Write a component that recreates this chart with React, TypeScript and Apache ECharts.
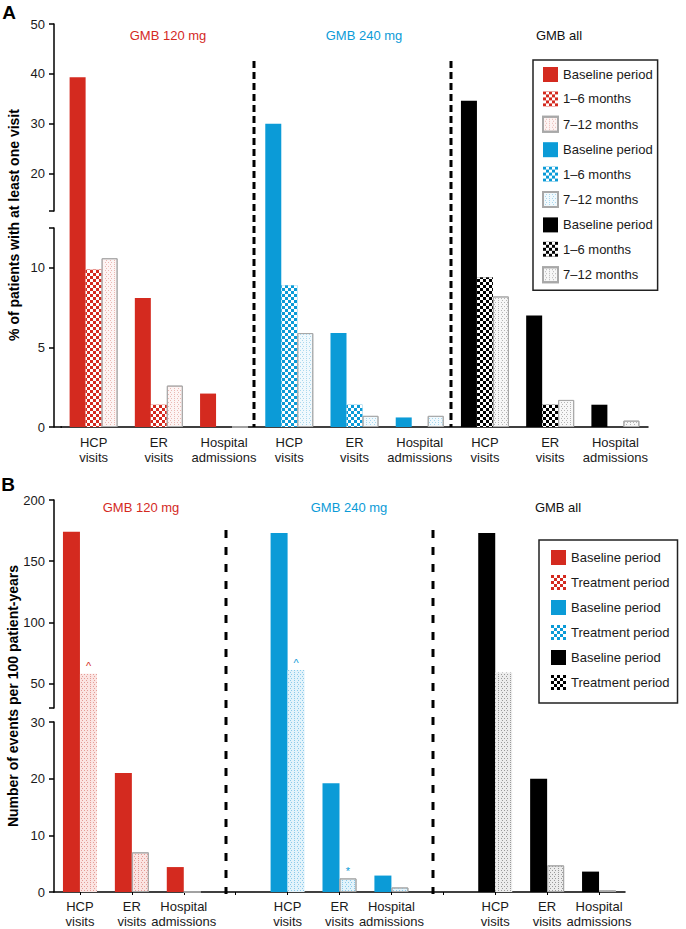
import React, { useEffect, useRef } from 'react';
import * as echarts from 'echarts';

const FONT = '"Liberation Sans", Arial, Helvetica, sans-serif';
const RED = '#d42a1f';
const BLUE = '#0b9bd7';
const BLACK = '#000000';

const groupNames = ['GMB 120 mg', 'GMB 240 mg', 'GMB all'];
const groupColors = [RED, BLUE, BLACK];
const visitTypes = ['HCP\nvisits', 'ER\nvisits', 'Hospital\nadmissions'];

// ---- Panel A: % of patients with at least one visit (HCP, ER, Hospital)
const periodsA = ['Baseline period', '1–6 months', '7–12 months'];
const a120Baseline = [39.3, 8.1, 2.1];
const a120Months1to6 = [9.9, 1.4, 0];
const a120Months7to12 = [10.6, 2.6, 0];
const a240Baseline = [30.0, 5.9, 0.6];
const a240Months1to6 = [8.9, 1.4, 0];
const a240Months7to12 = [5.9, 0.7, 0.7];
const aAllBaseline = [34.6, 7.0, 1.4];
const aAllMonths1to6 = [9.4, 1.4, 0];
const aAllMonths7to12 = [8.2, 1.7, 0.4];
const aLowerTicks = [0, 5, 10, 12.5];
const aLowerLabels = [0, 5, 10];
const aUpperTicks = [12.5, 20, 30, 40, 50];
const aUpperLabels = [20, 30, 40, 50];

// ---- Panel B: number of events per 100 patient-years
const periodsB = ['Baseline period', 'Treatment period'];
const b120Baseline = [174, 21, 4.4];
const b120Treatment = [58, 7.0, 0];
const b240Baseline = [173, 19.2, 2.9];
const b240Treatment = [61, 2.4, 0.8];
const bAllBaseline = [173, 20.0, 3.6];
const bAllTreatment = [59, 4.7, 0.3];
const b120Marks = ['^', '', ''];
const b240Marks = ['^', '*', ''];
const bAllMarks = ['', '', ''];
const bLowerTicks = [0, 10, 20, 30];
const bLowerLabels = [0, 10, 20, 30];
const bUpperTicks = [30, 50, 100, 150, 200];
const bUpperLabels = [50, 100, 150, 200];

const checker = (c: string) => ({
  symbol: 'rect', symbolSize: 1, dashArrayX: [[3, 3], [0, 3, 3, 0]], dashArrayY: [3, 0], color: c,
});
const dots = (c: string) => ({
  symbol: 'rect', symbolSize: 1, dashArrayX: [[1, 2], [0, 1.5, 1, 0.5]], dashArrayY: [1, 0.5], color: c,
});

const lightA = ['#fdf4f3', '#f1f9fd', '#f7f7f7'];
const dotA = ['#eab8b4', '#a9d8ee', '#b5b5b5'];
const lightB = ['#fbe4e2', '#e3f3fb', '#ececec'];
const dotB = ['#e49c96', '#8ccbea', '#9a9a9a'];

function styleA(g: number, p: number) {
  if (p === 0) return { color: groupColors[g], borderWidth: 0 };
  if (p === 1) return { color: groupColors[g], decal: checker('#ffffff'), borderWidth: 0 };
  return { color: lightA[g], decal: dots(dotA[g]), borderColor: '#a8a8a8', borderWidth: 1 };
}
function styleB(g: number, p: number) {
  if (p === 0) return { color: groupColors[g], borderWidth: 0 };
  return { color: lightB[g], decal: dots(dotB[g]), borderColor: '#a8a8a8', borderWidth: 1 };
}

type Panel = {
  key: string;
  values: number[][][];
  periods: string[];
  marks: string[][] | null;
  catLabels: string[];
  catIndex: (g: number, k: number) => number;
  left: number; width: number; offset: number;
  top: number; breakTop: number; breakBottom: number; bottom: number;
  highMin: number; highMax: number; lowMax: number;
  upperTicks: number[]; upperLabels: number[]; lowerTicks: number[]; lowerLabels: number[];
  barWidth: number;
  style: (g: number, p: number) => any;
  xTicks: boolean;
  labelMargin: number;
};

function build(panel: Panel, out: any) {
  const gi = out.grid.length;
  const { left, width, top, breakTop, breakBottom, bottom } = panel;
  out.grid.push({ left, top, width, height: breakTop - top });
  out.grid.push({ left, top, width, height: breakBottom - top });
  out.grid.push({ left, top: breakBottom, width, height: bottom - breakBottom });
  for (let i = 0; i < 3; i++) {
    out.xAxis.push({
      type: 'category', gridIndex: gi + i, data: panel.catLabels, show: i === 2,
      axisLine: { show: true, lineStyle: { color: '#000', width: 1.5 } },
      axisTick: { show: panel.xTicks, alignWithLabel: true, length: 3, lineStyle: { color: '#000', width: 1 } },
      axisLabel: { interval: 0, hideOverlap: false, fontSize: 13, color: '#1a1a1a', lineHeight: 15, margin: panel.labelMargin, fontFamily: FONT },
      splitLine: { show: false },
    });
  }
  const axisCommon = {
    type: 'value', offset: panel.offset,
    axisLine: { show: true, lineStyle: { color: '#000', width: 1.5 } },
    splitLine: { show: false },
  };
  const upperMinBars = panel.highMax - (breakBottom - top) * (panel.highMax - panel.highMin) / (breakTop - top);
  out.yAxis.push({
    ...axisCommon, gridIndex: gi, min: panel.highMin, max: panel.highMax,
    axisTick: { show: true, length: 5, customValues: panel.upperTicks, lineStyle: { color: '#000', width: 1.5 } },
    axisLabel: { customValues: panel.upperLabels, fontSize: 13, color: '#1a1a1a', margin: 9, fontFamily: FONT },
  });
  out.yAxis.push({ type: 'value', gridIndex: gi + 1, min: upperMinBars, max: panel.highMax, show: false, splitLine: { show: false } });
  out.yAxis.push({
    ...axisCommon, gridIndex: gi + 2, min: 0, max: panel.lowMax,
    axisTick: { show: true, length: 5, customValues: panel.lowerTicks, lineStyle: { color: '#000', width: 1.5 } },
    axisLabel: { customValues: panel.lowerLabels, fontSize: 13, color: '#1a1a1a', margin: 9, fontFamily: FONT },
  });
  const nCat = panel.catLabels.length;
  const names: string[] = [];
  panel.values.forEach((groupVals, g) => {
    groupVals.forEach((vals, p) => {
      const name = `${panel.periods[p]}|${panel.key}${g}`;
      names.push(name);
      const upper: any[] = new Array(nCat).fill(null);
      const lower: any[] = new Array(nCat).fill(null);
      vals.forEach((v, k) => {
        const idx = panel.catIndex(g, k);
        const mark = panel.marks && p === panel.periods.length - 1 ? panel.marks[g][k] : '';
        const lbl = mark ? { show: true, formatter: mark, position: 'top', distance: 2, color: groupColors[g], fontSize: 11, fontFamily: FONT } : undefined;
        if (v > panel.highMin) {
          // bar crosses the axis break: drawn in both segments without an outline so it reads as one bar
          const noEdge = { borderWidth: 0 };
          upper[idx] = lbl ? { value: v, label: lbl, itemStyle: noEdge } : { value: v, itemStyle: noEdge };
          lower[idx] = { value: v, itemStyle: noEdge };
        } else {
          lower[idx] = lbl ? { value: v, label: lbl } : v;
        }
      });
      const common = {
        type: 'bar', name, barWidth: panel.barWidth, barGap: '0%', silent: true,
        itemStyle: panel.style(g, p), emphasis: { disabled: true },
      };
      out.series.push({ ...common, xAxisIndex: gi + 1, yAxisIndex: gi + 1, stack: `${panel.key}u${p}`, data: upper });
      out.series.push({ ...common, xAxisIndex: gi + 2, yAxisIndex: gi + 2, stack: `${panel.key}l${p}`, data: lower });
    });
  });
  return names;
}

export default function App() {
  const ref = useRef<HTMLDivElement>(null);
  useEffect(() => {
    if (!ref.current) return;
    const chart = echarts.init(ref.current, undefined, { renderer: 'svg' });
    const out: any = { grid: [], xAxis: [], yAxis: [], series: [] };

    const catsA: string[] = [];
    for (let g = 0; g < 3; g++) visitTypes.forEach((v) => catsA.push(v));
    const catsB: string[] = [];
    for (let g = 0; g < 3; g++) {
      visitTypes.forEach((v) => catsB.push(v));
      if (g < 2) catsB.push('');
    }

    const namesA = build({
      key: 'A',
      values: [
        [a120Baseline, a120Months1to6, a120Months7to12],
        [a240Baseline, a240Months1to6, a240Months7to12],
        [aAllBaseline, aAllMonths1to6, aAllMonths7to12],
      ],
      periods: periodsA, marks: null, catLabels: catsA, catIndex: (g, k) => g * 3 + k,
      left: 61, width: 587, offset: 7,
      top: 24, breakTop: 211, breakBottom: 228, bottom: 427,
      highMin: 12.5, highMax: 50, lowMax: 12.5,
      upperTicks: aUpperTicks, upperLabels: aUpperLabels, lowerTicks: aLowerTicks, lowerLabels: aLowerLabels,
      barWidth: 16, style: styleA, xTicks: false, labelMargin: 8,
    }, out);

    const namesB = build({
      key: 'B',
      values: [
        [b120Baseline, b120Treatment],
        [b240Baseline, b240Treatment],
        [bAllBaseline, bAllTreatment],
      ],
      periods: periodsB, marks: [b120Marks, b240Marks, bAllMarks], catLabels: catsB, catIndex: (g, k) => g * 4 + k,
      left: 54, width: 571, offset: 0,
      top: 500, breakTop: 708, breakBottom: 722, bottom: 894,
      highMin: 30, highMax: 200, lowMax: 30,
      upperTicks: bUpperTicks, upperLabels: bUpperLabels, lowerTicks: bLowerTicks, lowerLabels: bLowerLabels,
      barWidth: 17, style: styleB, xTicks: true, labelMargin: 7,
    }, out);

    const legendCommon = {
      orient: 'vertical', icon: 'rect', itemWidth: 15, itemHeight: 15, selectedMode: false,
      borderColor: '#222', borderWidth: 1.5, borderRadius: 0, backgroundColor: '#fff',
      textStyle: { fontSize: 13, color: '#1a1a1a', fontFamily: FONT },
      formatter: (n: string) => n.split('|')[0],
    };
    const legendBData = namesB.map((n, i) => {
      const g = Math.floor(i / 2);
      const p = i % 2;
      return p === 1 ? { name: n, itemStyle: { color: groupColors[g], decal: checker('#ffffff'), borderWidth: 0 } } : { name: n };
    });

    const dashed = (x: number, y1: number, y2: number, dash: number[]) => ({
      type: 'line', silent: true,
      shape: { x1: x, y1, x2: x, y2 },
      style: { stroke: '#000', lineWidth: 3, lineDash: dash },
    });
    const txt = (text: string, x: number, y: number, color: string, font: string, rotation = 0) => ({
      type: 'text', x, y, rotation, silent: true,
      style: { text, fill: color, font, align: 'center', verticalAlign: 'middle' },
    });

    chart.setOption({
      animation: false,
      backgroundColor: '#ffffff',
      textStyle: { fontFamily: FONT },
      grid: out.grid,
      xAxis: out.xAxis,
      yAxis: out.yAxis,
      series: out.series,
      legend: [
        { ...legendCommon, left: 533, top: 60, itemGap: 9.4, padding: [7, 5, 7, 9], data: namesA },
        { ...legendCommon, left: 539, top: 540, itemGap: 10, padding: [10, 8, 13, 12], data: legendBData },
      ],
      graphic: [
        dashed(254, 61, 427, [7, 4]),
        dashed(451, 61, 427, [7, 4]),
        dashed(226, 530, 894, [8, 9]),
        dashed(433, 530, 894, [8, 9]),
        { type: 'line', silent: true, shape: { x1: 54, y1: 427, x2: 62, y2: 427 }, style: { stroke: '#000', lineWidth: 1.5 } },
        txt('A', 9, 12, '#000', `bold 19px ${FONT}`),
        txt('B', 8, 484, '#000', `bold 19px ${FONT}`),
        txt(groupNames[0], 168, 35, RED, `13px ${FONT}`),
        txt(groupNames[1], 364, 35, BLUE, `13px ${FONT}`),
        txt(groupNames[2], 559, 35, '#111', `13px ${FONT}`),
        txt(groupNames[0], 141, 507, RED, `13px ${FONT}`),
        txt(groupNames[1], 349, 507, BLUE, `13px ${FONT}`),
        txt(groupNames[2], 558, 507, '#111', `13px ${FONT}`),
        txt('% of patients with at least one visit', 14, 225, '#000', `bold 14px ${FONT}`, Math.PI / 2),
        txt('Number of events per 100 patient-years', 13, 696, '#000', `bold 14px ${FONT}`, Math.PI / 2),
      ],
    });
    return () => chart.dispose();
  }, []);
  return <div ref={ref} style={{ position: 'absolute', left: 0, top: 0, width: 686, height: 929, background: '#fff' }} />;
}
